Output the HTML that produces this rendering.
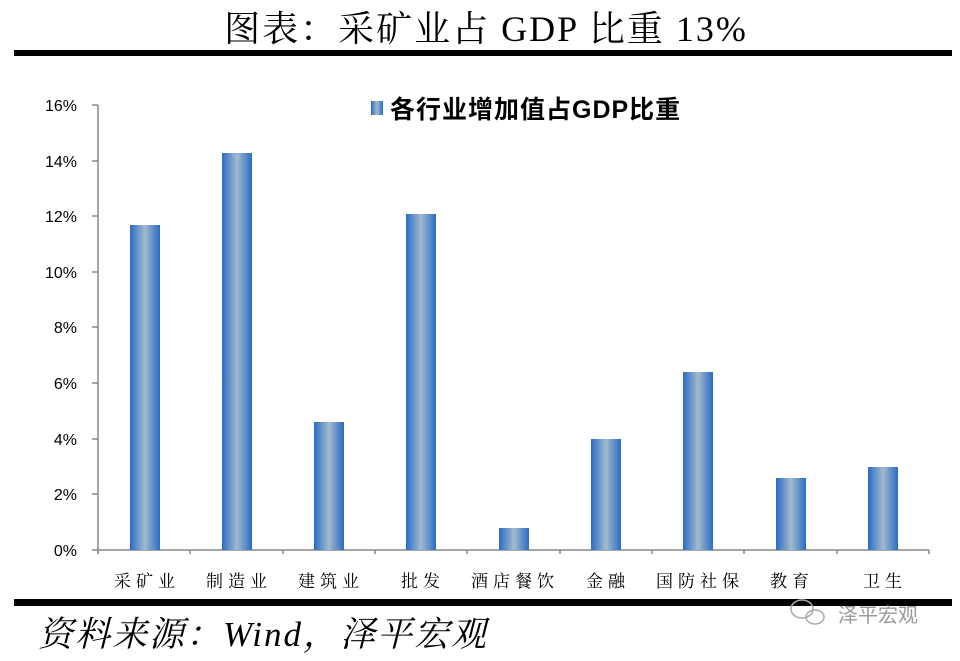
<!DOCTYPE html>
<html><head><meta charset="utf-8"><style>
body{margin:0;background:#fff;width:960px;height:656px;overflow:hidden}
</style></head><body>
<svg width="960" height="656" xmlns="http://www.w3.org/2000/svg">
<defs><linearGradient id="g" x1="0" x2="1" y1="0" y2="0">
<stop offset="0" stop-color="#2a6cc4"/><stop offset="0.5" stop-color="#a2bace"/><stop offset="1" stop-color="#2a6cc4"/></linearGradient></defs>
<text x="486" y="41" text-anchor="middle" letter-spacing="2" font-family="'Liberation Serif','Noto Serif CJK SC',serif" font-size="36" fill="#000">图表：采矿业占 GDP 比重 13%</text>
<rect x="14" y="50" width="938" height="6" fill="#000"/>
<g font-family="'Liberation Sans',sans-serif" font-size="16" fill="#000" text-anchor="end">
<text x="77" y="111">16%</text><text x="77" y="167">14%</text><text x="77" y="222">12%</text><text x="77" y="278">10%</text><text x="77" y="333">8%</text><text x="77" y="389">6%</text><text x="77" y="445">4%</text><text x="77" y="500">2%</text><text x="77" y="556">0%</text>
</g>
<g stroke="#888" stroke-width="1.5" fill="none">
<line x1="98" y1="105" x2="98" y2="554"/>
<line x1="92" y1="550" x2="929" y2="550"/>
<path d="M92 105H98M92 161H98M92 216H98M92 272H98M92 327H98M92 383H98M92 439H98M92 494H98"/>
<path d="M98 550V554M190 550V554M283 550V554M375 550V554M467 550V554M560 550V554M652 550V554M744 550V554M837 550V554M929 550V554"/>
</g>
<g fill="url(#g)">
<rect x="130" y="225" width="30" height="325"/>
<rect x="222" y="153" width="30" height="397"/>
<rect x="314" y="422" width="30" height="128"/>
<rect x="406" y="214" width="30" height="336"/>
<rect x="499" y="528" width="30" height="22"/>
<rect x="591" y="439" width="30" height="111"/>
<rect x="683" y="372" width="30" height="178"/>
<rect x="776" y="478" width="30" height="72"/>
<rect x="868" y="467" width="30" height="83"/>
</g>
<rect x="371" y="101" width="12" height="14" fill="url(#g)"/>
<text x="390" y="118" letter-spacing="1" font-family="'Liberation Sans','Noto Sans CJK SC',sans-serif" font-size="25" font-weight="bold" fill="#000">各行业增加值占GDP比重</text>
<g font-family="'Liberation Serif','Noto Serif CJK SC',serif" font-size="17" fill="#000" text-anchor="middle" letter-spacing="5">
<text x="147" y="587">采矿业</text><text x="239" y="587">制造业</text><text x="331" y="587">建筑业</text><text x="423" y="587">批发</text><text x="515" y="587">酒店餐饮</text><text x="608" y="587">金融</text><text x="700" y="587">国防社保</text><text x="792" y="587">教育</text><text x="885" y="587">卫生</text>
</g>
<rect x="14" y="599" width="938" height="7" fill="#000"/>
<text x="38" y="646" letter-spacing="2" font-family="'Liberation Serif','Noto Serif CJK SC',serif" font-style="italic" font-size="35" fill="#000">资料来源：Wind，泽平宏观</text>
<g fill="none" stroke="#aaa" stroke-width="1.5"><ellipse cx="802" cy="609" rx="11" ry="9"/><ellipse cx="815" cy="617" rx="9" ry="7"/></g>
<text x="838" y="622" font-family="'Liberation Sans','Noto Sans CJK SC',sans-serif" font-size="20" fill="#999">泽平宏观</text>
</svg>
</body></html>
